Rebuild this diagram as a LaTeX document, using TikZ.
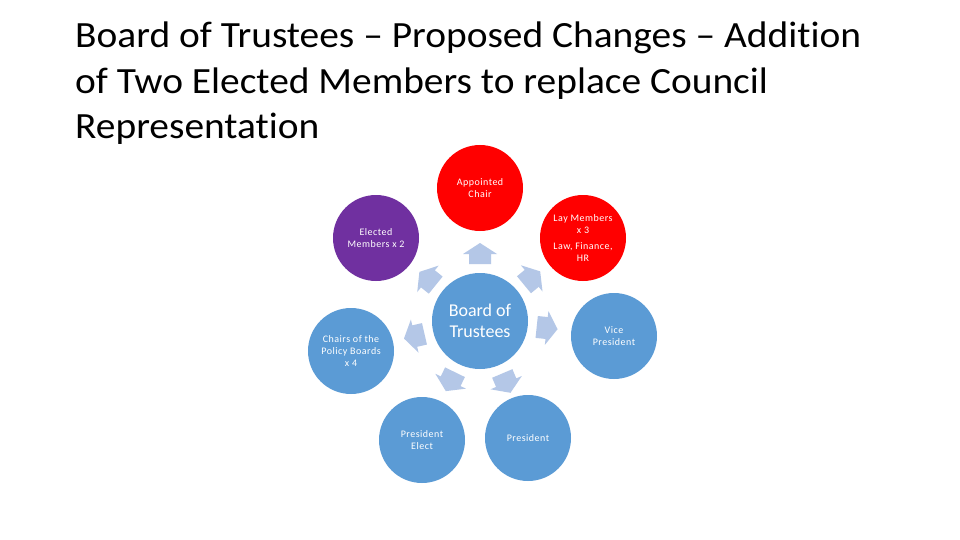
\documentclass[tikz,border=0pt]{standalone}
\usepackage{fontspec}
\setmainfont[Ligatures=CommonOff]{Carlito}
\newfontfamily\smallsat[Ligatures=CommonOff, LetterSpace=5]{Carlito}
\definecolor{bblue}{HTML}{5B9BD5}
\definecolor{bred}{HTML}{FF0000}
\definecolor{bpurple}{HTML}{7030A0}
\definecolor{barrow}{HTML}{B4C7E7}
\tikzset{
  sat/.style={circle, minimum size=86pt, inner sep=0pt, text=white, align=center,
    font=\smallsat\fontsize{10}{12}\selectfont},
  hub/.style={circle, minimum size=96pt, inner sep=0pt, text=white, align=center,
    fill=bblue, font=\fontsize{18}{21}\selectfont},
  titletext/.style={anchor=base west, inner sep=0pt, xscale=1.065, transform shape,
    font=\fontsize{37}{44}\selectfont},
  arrowc/.style={fill=barrow}
}
\newcommand\spokearrow[1]{%
  \fill[arrowc, shift={(board.center)}, rotate=#1]
    (57,-11) -- (67,-11) -- (67,-17) -- (78,0) -- (67,17) -- (67,11) -- (57,11) -- cycle;}
\begin{document}
\begin{tikzpicture}[x=1pt, y=-1pt]
\fill[white] (0,0) rectangle (960,540);
\useasboundingbox (0,0) rectangle (960,540);
\node[titletext] (t1) at (75,48) {Board of Trustees – Proposed Changes – Addition};
\node[titletext] (t2) at (75,93.5) {of Two Elected Members to replace Council};
\node[titletext] (t3) at (75,139) {Representation};

\node[hub] (board) at (480,321) {Board of\\Trustees};
\node[sat, fill=bred] (chair) at (480,188) {Appointed\\Chair};
\node[sat, fill=bred] (lay) at (583,238) {Lay Members\\x 3\\[4pt]Law, Finance,\\HR};
\node[sat, fill=bpurple] (elected) at (376,238) {Elected\\Members x 2};
\node[sat, fill=bblue] (vice) at (614,336) {Vice\\President};
\node[sat, fill=bblue] (chairs) at (351,351) {Chairs of the\\Policy Boards\\x 4};
\node[sat, fill=bblue] (preselect) at (422,440) {President\\Elect};
\node[sat, fill=bblue] (pres) at (528,438) {President};

\spokearrow{90}
\spokearrow{39.5}
\spokearrow{-6}
\spokearrow{-67}
\spokearrow{-116}
\spokearrow{-167}
\spokearrow{141}
\end{tikzpicture}
\end{document}
